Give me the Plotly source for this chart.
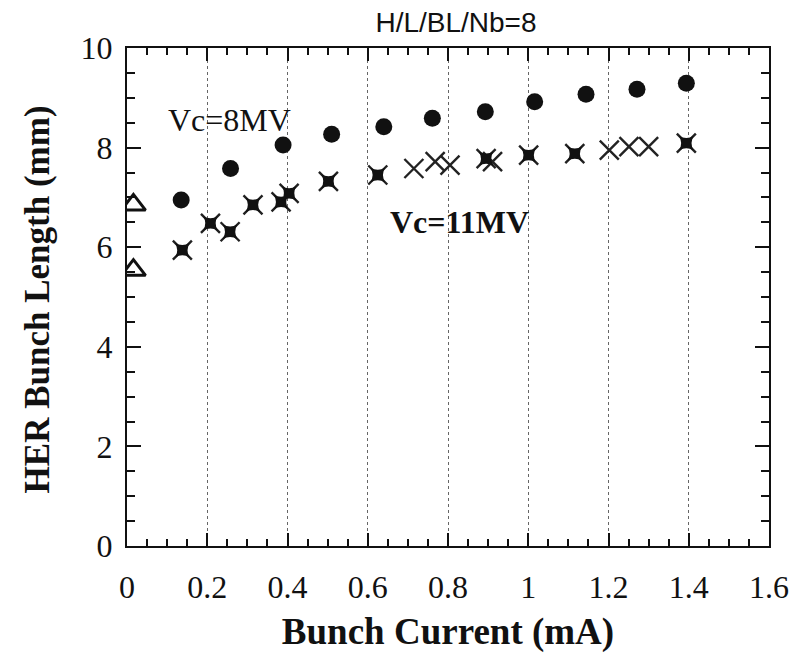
import plotly.graph_objects as go

# Data
vc8_current = [0.135, 0.258, 0.389, 0.510, 0.640, 0.761, 0.893, 1.016, 1.144, 1.271, 1.394]
vc8_length = [6.95, 7.58, 8.05, 8.27, 8.42, 8.59, 8.72, 8.92, 9.07, 9.17, 9.29]

zero_current = [0.016, 0.016]
zero_length = [6.85, 5.54]

vc11_current = [0.138, 0.208, 0.257, 0.314, 0.384, 0.404, 0.502, 0.625, 0.715, 0.768,
                0.805, 0.895, 0.911, 1.001, 1.116, 1.202, 1.251, 1.300, 1.394]
vc11_length = [5.94, 6.48, 6.31, 6.85, 6.91, 7.08, 7.32, 7.45, 7.58, 7.72,
               7.65, 7.78, 7.72, 7.85, 7.88, 7.95, 8.02, 8.02, 8.09]

vc11b_current = [0.138, 0.208, 0.257, 0.314, 0.384, 0.404, 0.502, 0.625, 0.895, 1.001, 1.116, 1.394]
vc11b_length = [5.94, 6.48, 6.31, 6.85, 6.91, 7.08, 7.32, 7.45, 7.78, 7.85, 7.88, 8.09]

x_tickvals = [0, 0.2, 0.4, 0.6, 0.8, 1.0, 1.2, 1.4, 1.6]
y_tickvals = [0, 2, 4, 6, 8, 10]

INK = "#111111"
SERIF = "Liberation Serif, Times New Roman, serif"

fig = go.Figure()

fig.add_trace(go.Scatter(
    x=vc8_current, y=vc8_length, mode="markers", name="Vc=8MV",
    marker=dict(symbol="circle", size=17, color=INK),
))
fig.add_trace(go.Scatter(
    x=zero_current, y=zero_length, mode="markers", name="zero current",
    marker=dict(symbol="triangle-up-open", size=21, color=INK, line=dict(width=3, color=INK)),
))
fig.add_trace(go.Scatter(
    x=vc11_current, y=vc11_length, mode="markers", name="Vc=11MV",
    marker=dict(symbol="x-thin-open", size=19, color="#222222", line=dict(width=2.4, color="#222222")),
))
fig.add_trace(go.Scatter(
    x=vc11b_current, y=vc11b_length, mode="markers", name="Vc=11MV (b)",
    marker=dict(symbol="star-diamond", size=15, angle=45, color=INK, line=dict(width=0)),
))

fig.add_annotation(x=0.413, y=8.55, xref="x", yref="y", text="Vc=8MV", showarrow=False,
                   xanchor="right", yanchor="middle",
                   font=dict(family=SERIF, size=32, color=INK))
fig.add_annotation(x=0.650, y=6.5, xref="x", yref="y", text="<b>Vc=11MV</b>", showarrow=False,
                   xanchor="left", yanchor="middle",
                   font=dict(family=SERIF, size=32, color=INK))
fig.add_annotation(x=(36 - 127) / 652, y=(546 - 299) / 498, xref="paper", yref="paper",
                   text="<b>HER Bunch Length (mm)</b>", textangle=-90, showarrow=False,
                   xanchor="center", yanchor="middle",
                   font=dict(family=SERIF, size=35, color=INK))

fig.update_layout(
    width=801, height=657,
    margin=dict(l=127, r=22, t=48, b=111),
    paper_bgcolor="white", plot_bgcolor="white",
    showlegend=False,
    title=dict(text="H/L/BL/Nb=8", x=456 / 801, xanchor="center", y=1 - 22 / 657, yanchor="middle",
               font=dict(family="Liberation Sans, Arial, sans-serif", size=28, color=INK)),
)

fig.update_xaxes(
    range=[x_tickvals[0], x_tickvals[-1]], tickmode="linear", tick0=x_tickvals[0],
    dtick=round(x_tickvals[1] - x_tickvals[0], 6),
    showline=True, linecolor=INK, linewidth=2, mirror="ticks",
    ticks="inside", ticklen=13, tickwidth=2, tickcolor=INK,
    minor=dict(ticks="inside", ticklen=7, tickwidth=1.5, tickcolor=INK, dtick=0.05, showgrid=False),
    showgrid=True, gridcolor="#666666", griddash="dot", gridwidth=1,
    zeroline=False,
    tickfont=dict(family=SERIF, size=32, color=INK),
    ticklabelstandoff=12,
    title=dict(text="<b>Bunch Current (mA)</b>", font=dict(family=SERIF, size=37, color=INK), standoff=14),
)
fig.update_yaxes(
    range=[y_tickvals[0], y_tickvals[-1]], tickmode="linear", tick0=y_tickvals[0],
    dtick=y_tickvals[1] - y_tickvals[0],
    showline=True, linecolor=INK, linewidth=2, mirror="ticks",
    ticks="inside", ticklen=14, tickwidth=2, tickcolor=INK,
    minor=dict(ticks="inside", ticklen=8, tickwidth=1.5, tickcolor=INK, dtick=0.5, showgrid=False),
    showgrid=False, zeroline=False,
    tickfont=dict(family=SERIF, size=32, color=INK),
    ticklabelstandoff=6,
)

fig.write_html("out.html")
